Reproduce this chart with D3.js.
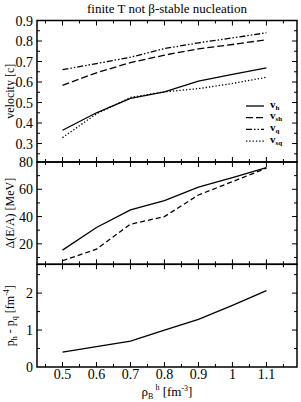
<!DOCTYPE html>
<html>
<head>
<meta charset="UTF-8">
<title></title>
<script src="https://cdn.jsdelivr.net/npm/d3@7"></script>
<style>
  body { margin: 0; background: #fff; }
  text { font-family: "Liberation Serif", "DejaVu Serif", serif; fill: #000; }
</style>
</head>
<body>
<svg width="301" height="402"></svg>
<script>
// densities rho_B^h [fm^-3]
var rho = [0.5, 0.6, 0.7, 0.8, 0.9, 1.0, 1.1];
// velocities [c]
var vH  = [0.365, 0.45, 0.52, 0.552, 0.604, 0.637, 0.669];
var vSh = [0.584, 0.645, 0.695, 0.731, 0.762, 0.783, 0.806];
var vQ  = [0.66, 0.69, 0.721, 0.763, 0.791, 0.815, 0.84];
var vSq = [0.329, 0.445, 0.525, 0.552, 0.568, 0.593, 0.623];
// Delta(E/A) [MeV]
var dEsolid  = [15.4, 32, 44.9, 51.7, 61.5, 68.5, 75.8];
var dEdashed = [7.6, 16.1, 34.4, 40, 55.8, 65.6, 75.5];
// p_h - p_q [fm^-4]
var dP = [0.4, 0.55, 0.7, 1.0, 1.29, 1.67, 2.07];

var xTicks = [0.5, 0.6, 0.7, 0.8, 0.9, 1, 1.1];
var xMinor = [0.45, 0.55, 0.65, 0.75, 0.85, 0.95, 1.05, 1.15];

var svg = d3.select("svg");
var L = 37, R = 297;

var x = d3.scaleLinear().domain([0.425, 1.19]).range([L, R]);

var panels = [
  {top: 20.5, bot: 162, dom: [0.21, 0.9], major: [0.3,0.4,0.5,0.6,0.7,0.8,0.9],
   minor: [0.25,0.35,0.45,0.55,0.65,0.75,0.85], fmt: d3.format(".1f"),
   series: [
     {v: vH, dash: null},
     {v: vSh, dash: "7,3"},
     {v: vQ, dash: "6,2,1.5,2,1.5,2"},
     {v: vSq, dash: "1.3,2"}
   ]},
  {top: 162, bot: 264.3, dom: [5, 80], major: [20,40,60,80], minor: [10,30,50,70],
   fmt: d3.format("d"),
   series: [
     {v: dEsolid, dash: null},
     {v: dEdashed, dash: "5,3"}
   ]},
  {top: 264.3, bot: 367, dom: [0, 2.78], major: [0,1,2], minor: [0.5,1.5,2.5],
   fmt: d3.format("d"),
   series: [
     {v: dP, dash: null}
   ]}
];

panels.forEach(function(p, pi){
  var y = d3.scaleLinear().domain(p.dom).range([p.bot, p.top]);
  p.y = y;
  var g = svg.append("g");

  // data lines
  var line = d3.line()
    .x(function(d, i){ return x(rho[i]); })
    .y(function(d){ return y(d); });
  p.series.forEach(function(s){
    g.append("path")
      .attr("d", line(s.v))
      .attr("fill", "none")
      .attr("stroke", "#000")
      .attr("stroke-width", 1.3)
      .attr("stroke-dasharray", s.dash);
  });

  // ticks inward, on all four sides
  var tk = g.append("g").attr("stroke", "#000").attr("stroke-width", 1);
  function yTick(v, len){
    tk.append("line").attr("x1", L).attr("x2", L + len).attr("y1", y(v)).attr("y2", y(v));
    tk.append("line").attr("x1", R).attr("x2", R - len).attr("y1", y(v)).attr("y2", y(v));
  }
  p.major.forEach(function(v){ if (y(v) > p.top + 1 && y(v) < p.bot - 1) yTick(v, 5); });
  p.minor.forEach(function(v){ if (y(v) > p.top + 1 && y(v) < p.bot - 1) yTick(v, 3); });
  function xTick(v, len){
    tk.append("line").attr("x1", x(v)).attr("x2", x(v)).attr("y1", p.bot).attr("y2", p.bot - len);
    tk.append("line").attr("x1", x(v)).attr("x2", x(v)).attr("y1", p.top).attr("y2", p.top + len);
  }
  xTicks.forEach(function(v){ xTick(v, 5); });
  xMinor.forEach(function(v){ xTick(v, 3); });

  // y tick labels
  g.selectAll("text.yl").data(p.major).enter().append("text")
    .attr("x", L - 4)
    .attr("y", function(d){ return y(d) + 5; })
    .attr("text-anchor", "end")
    .style("font-size", "14px")
    .text(p.fmt);

  // frame
  g.append("rect")
    .attr("x", L).attr("y", p.top)
    .attr("width", R - L).attr("height", p.bot - p.top)
    .attr("fill", "none").attr("stroke", "#000").attr("stroke-width", 1.5);
});

// x tick labels on bottom panel
svg.selectAll("text.xl").data(xTicks).enter().append("text")
  .attr("x", function(d){ return x(d); })
  .attr("y", 379)
  .attr("text-anchor", "middle")
  .style("font-size", "14px")
  .text(function(d){ return d === 1 ? "1" : d3.format(".1f")(d); });

// title
svg.append("text")
  .attr("x", (L + R) / 2).attr("y", 13)
  .attr("text-anchor", "middle")
  .style("font-size", "13px")
  .text("finite T not β-stable nucleation");

// y axis titles
function yTitle(cy, build){
  var t = svg.append("text")
    .attr("transform", "translate(14," + cy + ") rotate(-90)")
    .attr("text-anchor", "middle")
    .style("font-size", "12px");
  build(t);
}
yTitle((panels[0].top + panels[0].bot) / 2, function(t){ t.text("velocity  [c]"); });
yTitle((panels[1].top + panels[1].bot) / 2, function(t){ t.text("Δ(E/A)  [MeV]"); });
yTitle((panels[2].top + panels[2].bot) / 2, function(t){
  t.append("tspan").text("p");
  t.append("tspan").attr("dy", 3).style("font-size", "8px").text("h");
  t.append("tspan").attr("dy", -3).text(" - p");
  t.append("tspan").attr("dy", 3).style("font-size", "8px").text("q");
  t.append("tspan").attr("dy", -3).text("  [fm");
  t.append("tspan").attr("dy", -5).style("font-size", "8px").text("-4");
  t.append("tspan").attr("dy", 5).text("]");
});

// x axis title
var xt = svg.append("text")
  .attr("x", (L + R) / 2).attr("y", 396)
  .attr("text-anchor", "middle")
  .style("font-size", "13px");
xt.append("tspan").text("ρ");
xt.append("tspan").attr("dy", 3).style("font-size", "8px").text("B");
xt.append("tspan").attr("dy", -9).style("font-size", "8px").text("   h");
xt.append("tspan").attr("dy", 6).text("  [fm");
xt.append("tspan").attr("dy", -5).style("font-size", "8px").text("-3");
xt.append("tspan").attr("dy", 5).text("]");

// legend
var legNames = ["h", "sh", "q", "sq"];
var leg = svg.append("g");
panels[0].series.forEach(function(s, i){
  var ly = 106 + i * 11.7;
  leg.append("line")
    .attr("x1", 246).attr("x2", 264)
    .attr("y1", ly).attr("y2", ly)
    .attr("stroke", "#000").attr("stroke-width", 1.3)
    .attr("stroke-dasharray", s.dash);
  var t = leg.append("text")
    .attr("x", 270).attr("y", ly + 1.5)
    .style("font-size", "11px").style("font-weight", "bold");
  t.append("tspan").text("v");
  t.append("tspan").attr("dy", 2).style("font-size", "7px").text(legNames[i]);
});
</script>
</body>
</html>
